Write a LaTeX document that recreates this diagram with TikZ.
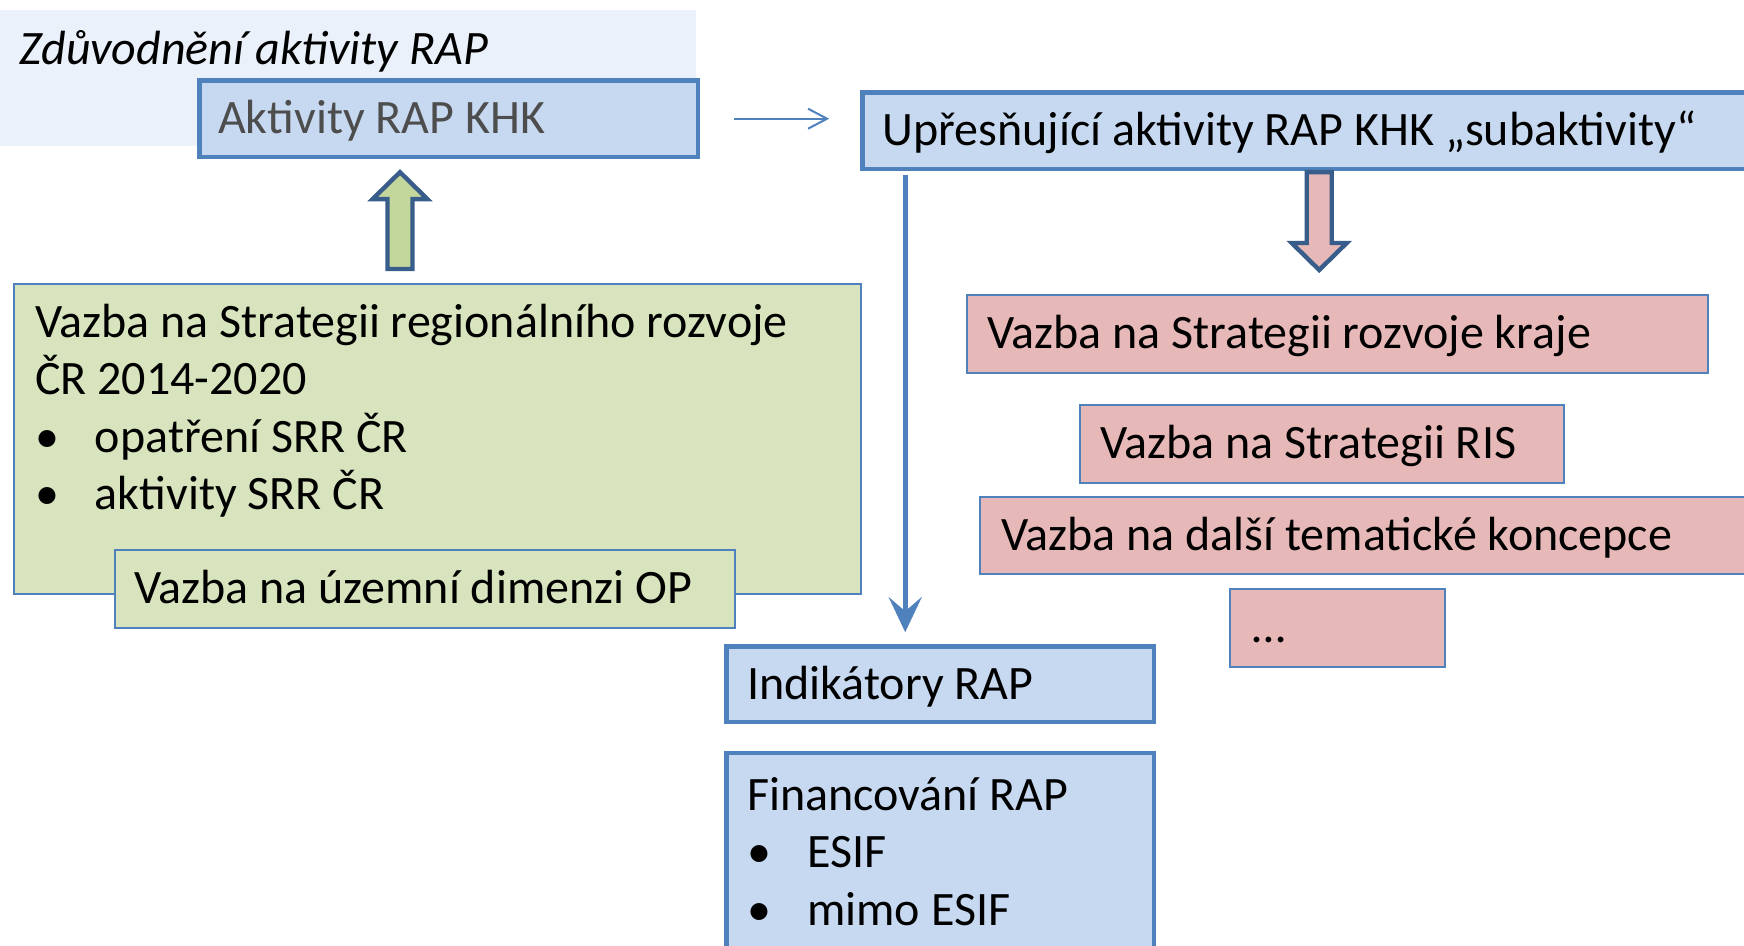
\documentclass[tikz,border=0pt]{standalone}
\usepackage{fontspec}
\setmainfont{Carlito}
\usetikzlibrary{positioning}
\usetikzlibrary{calc}
\usetikzlibrary{arrows.meta}
\definecolor{modra}{RGB}{79,129,189}
\definecolor{tmavemodra}{RGB}{56,93,138}
\definecolor{svetlemodra}{RGB}{198,217,241}
\definecolor{pozadi}{RGB}{234,241,250}
\definecolor{zelena}{RGB}{215,228,189}
\definecolor{zelenasipka}{RGB}{195,214,155}
\definecolor{ruzova}{RGB}{230,185,184}
\definecolor{sedy}{RGB}{77,77,77}
\tikzset{
  diagram/.style={
    x=0.5pt, y=-0.5pt,
    zaklad/.style={rectangle, draw=modra, anchor=north west, font=\fontsize{24}{28.75}\selectfont},
    box/.style={zaklad, align=flush left, text height=17pt, text depth=2.2pt, inner ysep=0pt},
    modry/.style={box, fill=svetlemodra, line width=2.2pt},
    zeleny/.style={box, fill=zelena, line width=1pt},
    ruzovy/.style={box, fill=ruzova, line width=1pt},
    rozmer/.style n args={3}{minimum width=##1, minimum height=##2, inner xsep=##3},
    pozadi box/.style={rectangle, fill=pozadi, anchor=north west, inner sep=0pt},
    nadpis/.style={anchor=base west, inner sep=0pt, font=\fontsize{24}{28}\selectfont\itshape},
    blok/.style={draw=tmavemodra, line width=2.2pt, line join=miter},
    spojnice/.style={draw=modra, line width=2.5pt, -{Stealth[length=17.5pt, width=16.5pt, inset=7pt]}},
    tenka/.style={draw=modra, line width=1pt, -{Straight Barb[length=9.5pt, width=10pt]}},
  }
}
\newcommand{\blokovasipka}[4]{% pata, hrot, vypln, smer
  \draw[blok, fill=#3] let \p1=(#1), \p2=(#2) in
    ({\x1-6.25pt},\y1) -- ({\x1-6.25pt},{\y2-(#4)*13.5pt}) -- ({\x1-13.75pt},{\y2-(#4)*13.5pt}) -- (\x1,\y2)
    -- ({\x1+13.75pt},{\y2-(#4)*13.5pt}) -- ({\x1+6.25pt},{\y2-(#4)*13.5pt}) -- ({\x1+6.25pt},\y1) -- cycle;
}

\begin{document}
\begin{tikzpicture}[diagram]
\clip (0,0) rectangle (1744,946);

% leva cast
\node[pozadi box, minimum width=348pt, minimum height=68pt] (zduvod) at (0,10) {};
\node[nadpis] (titul) at (19,65) {Zdůvodnění aktivity RAP};
\node[modry, rozmer={249.3pt}{38.3pt}{9.4pt}, text width=230.5pt, text=sedy] (akt) at (197.2,78.2) {Aktivity RAP KHK};

\node[zaklad, fill=zelena, line width=1pt, inner xsep=10.5pt, inner ysep=6.4pt] (srr) at (13,283)
  {\begin{minipage}[t][142.2pt][t]{402.5pt}\raggedright
   \strut Vazba na Strategii regionálního rozvoje\\
   ČR 2014-2020\\
   \makebox[30pt][l]{•}opatření SRR ČR\\
   \makebox[30pt][l]{•}aktivity SRR ČR
   \end{minipage}};
\node[zeleny, rozmer={310pt}{39pt}{9.5pt}, text width=291pt] (uzemi) at (114,549) {Vazba na územní dimenzi OP};

% prava cast
\node[modry, rozmer={465pt}{38.3pt}{9.9pt}, text width=445pt] (upr) at (860.2,90.2)
  {Upřesňující aktivity RAP KHK „subaktivity“};
\node[ruzovy, rozmer={370.5pt}{39pt}{10pt}, text width=350.5pt] (kraj) at (966,294) {Vazba na Strategii rozvoje kraje};
\node[ruzovy, rozmer={242pt}{39pt}{10pt}, text width=222pt] (ris) at (1079,404) {Vazba na Strategii RIS};
\node[ruzovy, rozmer={400pt}{38.5pt}{10.5pt}, text width=379pt] (dalsi) at (979,496) {Vazba na další tematické koncepce};
\node[ruzovy, rozmer={107.5pt}{39pt}{11pt}, text width=85.5pt] (tecky) at (1229,588) {…};

\node[modry, rozmer={213.8pt}{37.8pt}{10.4pt}, text width=193pt] (indik) at (724.2,644.2) {Indikátory RAP};
\node[zaklad, fill=svetlemodra, line width=2.2pt, inner xsep=10.4pt, inner ysep=8.6pt,
      below=13.3pt of indik] (fin)
  {\begin{minipage}[t][88.2pt][t]{193pt}\raggedright
   \strut Financování RAP\\
   \makebox[30pt][l]{•}ESIF\\
   \makebox[30pt][l]{•}mimo ESIF
   \end{minipage}};

% sipky
\draw[tenka] ([xshift=17pt]akt.east) -- ([xshift=-15.5pt]akt.east -| upr.west);

\coordinate (svisly) at ($(upr.south west)+(45,4)$);
\draw[spojnice, shorten >=6pt] (svisly) -- (svisly |- indik.north);

\coordinate (zelenapata) at ($(srr.north west)+(387,-14)$);
\coordinate (zelenyhrot) at ($(zelenapata |- akt.south)+(0,13)$);
\blokovasipka{zelenapata}{zelenyhrot}{zelenasipka}{1}

\coordinate (ruzovapata) at ($(upr.south west)+(459,1)$);
\coordinate (ruzovyhrot) at ($(ruzovapata |- kraj.north)+(0,-24)$);
\blokovasipka{ruzovapata}{ruzovyhrot}{ruzova}{-1}
\end{tikzpicture}
\end{document}
